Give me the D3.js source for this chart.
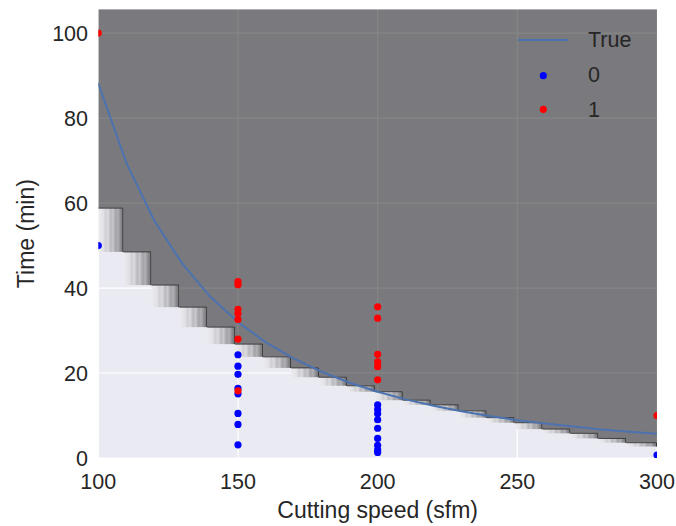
<!DOCTYPE html>
<html>
<head>
<meta charset="utf-8">
<style>
body { margin: 0; background: #fff; }
svg text { font-family: "Liberation Sans", Arial, sans-serif; fill: #262626; }
</style>
</head>
<body>
<div id="container"></div>
<script src="https://d3js.org/d3.v7.min.js"></script>
<script>
// curve "True": tool life vs cutting speed
const speeds = [100,110,120,130,140,150,160,170,180,190,200,210,220,230,240,250,260,270,280,290,300];
const trueLife = [88.2,69.5,55.9,45.8,38.0,32.0,27.2,23.4,20.3,17.7,15.6,13.8,12.3,11.0,9.9,8.9,8.1,7.4,6.7,6.2,5.7];

// class 0 observations
const speed0 = [100,150,150,150,150,150,150,150,150,200,200,200,200,200,200,200,200,200,300];
const life0  = [50,24.3,21.6,19.7,16.4,15.1,10.5,7.9,3.1,12.5,11.4,10.4,9.0,7.0,4.6,3.0,1.9,1.3,0.7];

// class 1 observations
const speed1 = [100,150,150,150,150,150,150,150,200,200,200,200,200,200,300];
const life1  = [100,41.5,40.8,35.0,34.0,32.6,28.0,15.8,35.6,32.9,24.4,22.6,21.5,18.4,10.0];

// predicted boundary: column edges and level at each edge
const cellEdges = [100,109,119,129,139,149,159,169,179,189,199,209,219,229,239,249,259,269,279,289,300];
const stepTops = [58.8,48.5,40.7,35.5,30.8,26.8,23.8,21.2,19.0,17.0,15.6,13.6,12.5,11.1,9.5,8.3,6.8,5.8,4.6,3.6,2.7];

const xTicks = [100,150,200,250,300];
const yTicks = [0,20,40,60,80,100];

const width = 676, height = 526;
const mLeft = 98.3, mRight = 657, mTop = 9.3, mBottom = 458;

const svg = d3.select('#container').append('svg')
    .attr('width', width).attr('height', height);

const x = d3.scaleLinear().domain([100, 300]).range([mLeft, mRight]);
const y = d3.scaleLinear().domain([0, 105.6]).range([mBottom, mTop]);

const defs = svg.append('defs');
defs.append('clipPath').attr('id', 'plotclip')
  .append('rect').attr('x', mLeft).attr('y', mTop)
  .attr('width', mRight - mLeft).attr('height', mBottom - mTop);

// striped fade used where the prediction changes
const grad = defs.append('linearGradient').attr('id', 'fade');
[[0,'#ececf0'],[0.2,'#e2e2e6'],[0.3,'#cfcfd3'],[0.38,'#dcdce0'],[0.5,'#b9b9bd'],
 [0.58,'#c9c9cd'],[0.7,'#a2a2a6'],[0.78,'#b1b1b5'],[0.9,'#88888c'],[1,'#737377']]
  .forEach(s => grad.append('stop').attr('offset', s[0]).attr('stop-color', s[1]));

svg.append('rect').attr('x', mLeft).attr('y', mTop)
   .attr('width', mRight - mLeft).attr('height', mBottom - mTop)
   .attr('fill', '#eaeaf2');

// grid
svg.append('g').selectAll('line').data(xTicks).enter().append('line')
   .attr('x1', d => x(d)).attr('x2', d => x(d))
   .attr('y1', mTop).attr('y2', mBottom)
   .attr('stroke', '#fff').attr('stroke-width', 1.2);
svg.append('g').selectAll('line').data(yTicks).enter().append('line')
   .attr('x1', mLeft).attr('x2', mRight)
   .attr('y1', d => y(d)).attr('y2', d => y(d))
   .attr('stroke', '#fff').attr('stroke-width', 1.2);

const plot = svg.append('g').attr('clip-path', 'url(#plotclip)');

// dark region (class 1 predicted)
const cols = d3.range(cellEdges.length - 1).map(j => ({
    x0: cellEdges[j], x1: cellEdges[j + 1], hi: stepTops[j], lo: stepTops[j + 1]
}));
const stepPts = cols.map(c => [c.x0, c.hi]).concat([[300, cols[cols.length - 1].hi]]);
plot.append('path')
   .datum(stepPts)
   .attr('d', d3.area().curve(d3.curveStepAfter)
        .x(d => x(d[0])).y0(mTop).y1(d => y(d[1])))
   .attr('fill', '#000').attr('fill-opacity', 0.48);

plot.append('g').selectAll('rect').data(cols).enter().append('rect')
   .attr('x', d => x(d.x0)).attr('width', d => x(d.x1) - x(d.x0))
   .attr('y', d => y(d.hi)).attr('height', d => y(d.lo) - y(d.hi))
   .attr('fill', 'url(#fade)');

plot.append('g').selectAll('path').data(cols).enter().append('path')
   .attr('d', d => `M${x(d.x0)},${y(d.hi)}H${x(d.x1) - 0.5}V${y(d.lo)}`)
   .attr('fill', 'none').attr('stroke', '#2b2b2b').attr('stroke-width', 1)
   .attr('stroke-opacity', 0.85);

// true curve
plot.append('path')
   .datum(d3.zip(speeds, trueLife))
   .attr('d', d3.line().x(d => x(d[0])).y(d => y(d[1])))
   .attr('fill', 'none').attr('stroke', '#4c72b0').attr('stroke-width', 2);

plot.append('g').selectAll('circle').data(d3.zip(speed0, life0)).enter().append('circle')
   .attr('cx', d => x(d[0])).attr('cy', d => y(d[1])).attr('r', 3.6)
   .attr('fill', '#0000ff');
plot.append('g').selectAll('circle').data(d3.zip(speed1, life1)).enter().append('circle')
   .attr('cx', d => x(d[0])).attr('cy', d => y(d[1])).attr('r', 3.6)
   .attr('fill', '#ff0000');

// tick labels
svg.append('g').selectAll('text').data(xTicks).enter().append('text')
   .attr('x', d => x(d)).attr('y', 489)
   .attr('text-anchor', 'middle').style('font-size', '21.5px')
   .text(d => d);
svg.append('g').selectAll('text').data(yTicks).enter().append('text')
   .attr('x', 88).attr('y', d => y(d)).attr('dy', '0.35em')
   .attr('text-anchor', 'end').style('font-size', '21.5px')
   .text(d => d);

svg.append('text').attr('x', (mLeft + mRight) / 2).attr('y', 518)
   .attr('text-anchor', 'middle').style('font-size', '23px')
   .text('Cutting speed (sfm)');
svg.append('text')
   .attr('transform', `translate(33.5,${(mTop + mBottom) / 2}) rotate(-90)`)
   .attr('text-anchor', 'middle').style('font-size', '23px')
   .text('Time (min)');

// legend
const legend = svg.append('g');
legend.append('line').attr('x1', 518).attr('x2', 568).attr('y1', 40).attr('y2', 40)
   .attr('stroke', '#4c72b0').attr('stroke-width', 2);
legend.append('text').attr('x', 588).attr('y', 46.7).style('font-size', '21.5px').text('True');
legend.append('circle').attr('cx', 543.3).attr('cy', 75.7).attr('r', 3.6).attr('fill', '#0000ff');
legend.append('text').attr('x', 588).attr('y', 81.7).style('font-size', '21.5px').text('0');
legend.append('circle').attr('cx', 543.3).attr('cy', 109.3).attr('r', 3.6).attr('fill', '#ff0000');
legend.append('text').attr('x', 588).attr('y', 116.7).style('font-size', '21.5px').text('1');
</script>
</body>
</html>
